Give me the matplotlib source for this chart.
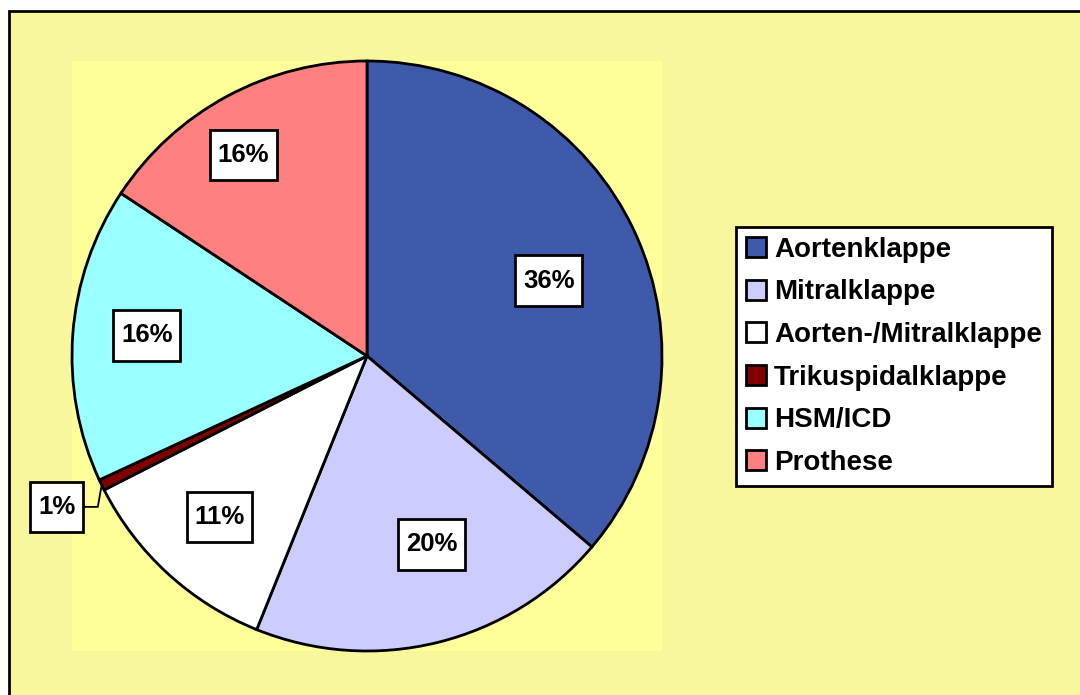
import numpy as np
import matplotlib.pyplot as plt
from matplotlib.patches import Rectangle
from matplotlib.path import Path

plt.rcParams['font.family'] = ['Liberation Sans', 'DejaVu Sans']

categories = ["Aortenklappe", "Mitralklappe", "Aorten-/Mitralklappe",
              "Trikuspidalklappe", "HSM/ICD", "Prothese"]
values = [36.2, 19.9, 11.4, 0.6, 16.2, 15.7]
labels = ["36%", "20%", "11%", "1%", "16%", "16%"]
colors = ["#3F5AAA", "#CCCCFF", "#FFFFFF", "#800000", "#99FFFF", "#FF8080"]

# label placement per slice: distance from centre and angle nudge (deg)
label_dist = [0.667, 0.675, 0.74, 1.17, 0.75, 0.8]
label_nudge = [-2.3, 5.0, 0.0, 0.0, -1.0, 3.3]


def label_box(x0, y0, width, height, mutation_size):
    # wider vertical padding than horizontal, like the Excel labels
    px = 0.3 * mutation_size
    py = 0.52 * mutation_size
    x0, x1 = x0 - px, x0 + width + px
    y0, y1 = y0 - py, y0 + height + py
    return Path([(x0, y0), (x1, y0), (x1, y1), (x0, y1), (x0, y0)], closed=True)


fig = plt.figure(figsize=(10.8, 6.95), dpi=100, facecolor="white")

# chart area background with border
fig.patches.append(Rectangle((8.5 / 1080, -0.05), 1.2, (695 - 10.5) / 695 + 0.05,
                             transform=fig.transFigure, facecolor="#F9F79B",
                             edgecolor="black", linewidth=2, zorder=-2))
# plot area
fig.patches.append(Rectangle((72 / 1080, (695 - 651) / 695), 590 / 1080, 590 / 695,
                             transform=fig.transFigure, facecolor="#FFFF99",
                             edgecolor="none", zorder=-1))

ax = fig.add_axes([72 / 1080, (695 - 651) / 695, 590 / 1080, 590 / 695])
ax.set_zorder(1)

wedges, _ = ax.pie(values, colors=colors, startangle=90, counterclock=False,
                   radius=1.0, wedgeprops=dict(edgecolor="black", linewidth=2))
ax.set_xlim(-1.0, 1.0)
ax.set_ylim(-1.0, 1.0)
ax.set_aspect("equal")

box = dict(boxstyle=label_box, facecolor="white", edgecolor="black", linewidth=2)
for w, lab, d, nd in zip(wedges, labels, label_dist, label_nudge):
    ang = np.deg2rad((w.theta1 + w.theta2) / 2 + nd)
    if d < 1:
        ax.text(d * np.cos(ang), d * np.sin(ang), lab, ha="center", va="center",
                fontsize=18.5, fontweight="bold", bbox=box)
    else:
        ax.annotate(lab, xy=(np.cos(ang), np.sin(ang)),
                    xytext=(d * np.cos(ang), d * np.sin(ang)),
                    ha="center", va="center", fontsize=18.5, fontweight="bold", bbox=box,
                    annotation_clip=False,
                    arrowprops=dict(arrowstyle="-", color="black", lw=1.3,
                                    connectionstyle="angle,angleA=0,angleB=80,rad=0",
                                    shrinkA=0, shrinkB=0))

leg = fig.legend(wedges, categories, loc="upper left",
                 bbox_to_anchor=(736 / 1080, 1 - 227 / 695),
                 prop=dict(size=20, weight="bold"), frameon=True, fancybox=False,
                 edgecolor="black", framealpha=1, handlelength=0.72, handleheight=0.72,
                 handletextpad=0.3, labelspacing=0.6, borderpad=0.35, borderaxespad=0)
leg.get_frame().set_linewidth(2)
leg.set_zorder(5)

fig.savefig("out.png", dpi=100, facecolor=fig.get_facecolor())
